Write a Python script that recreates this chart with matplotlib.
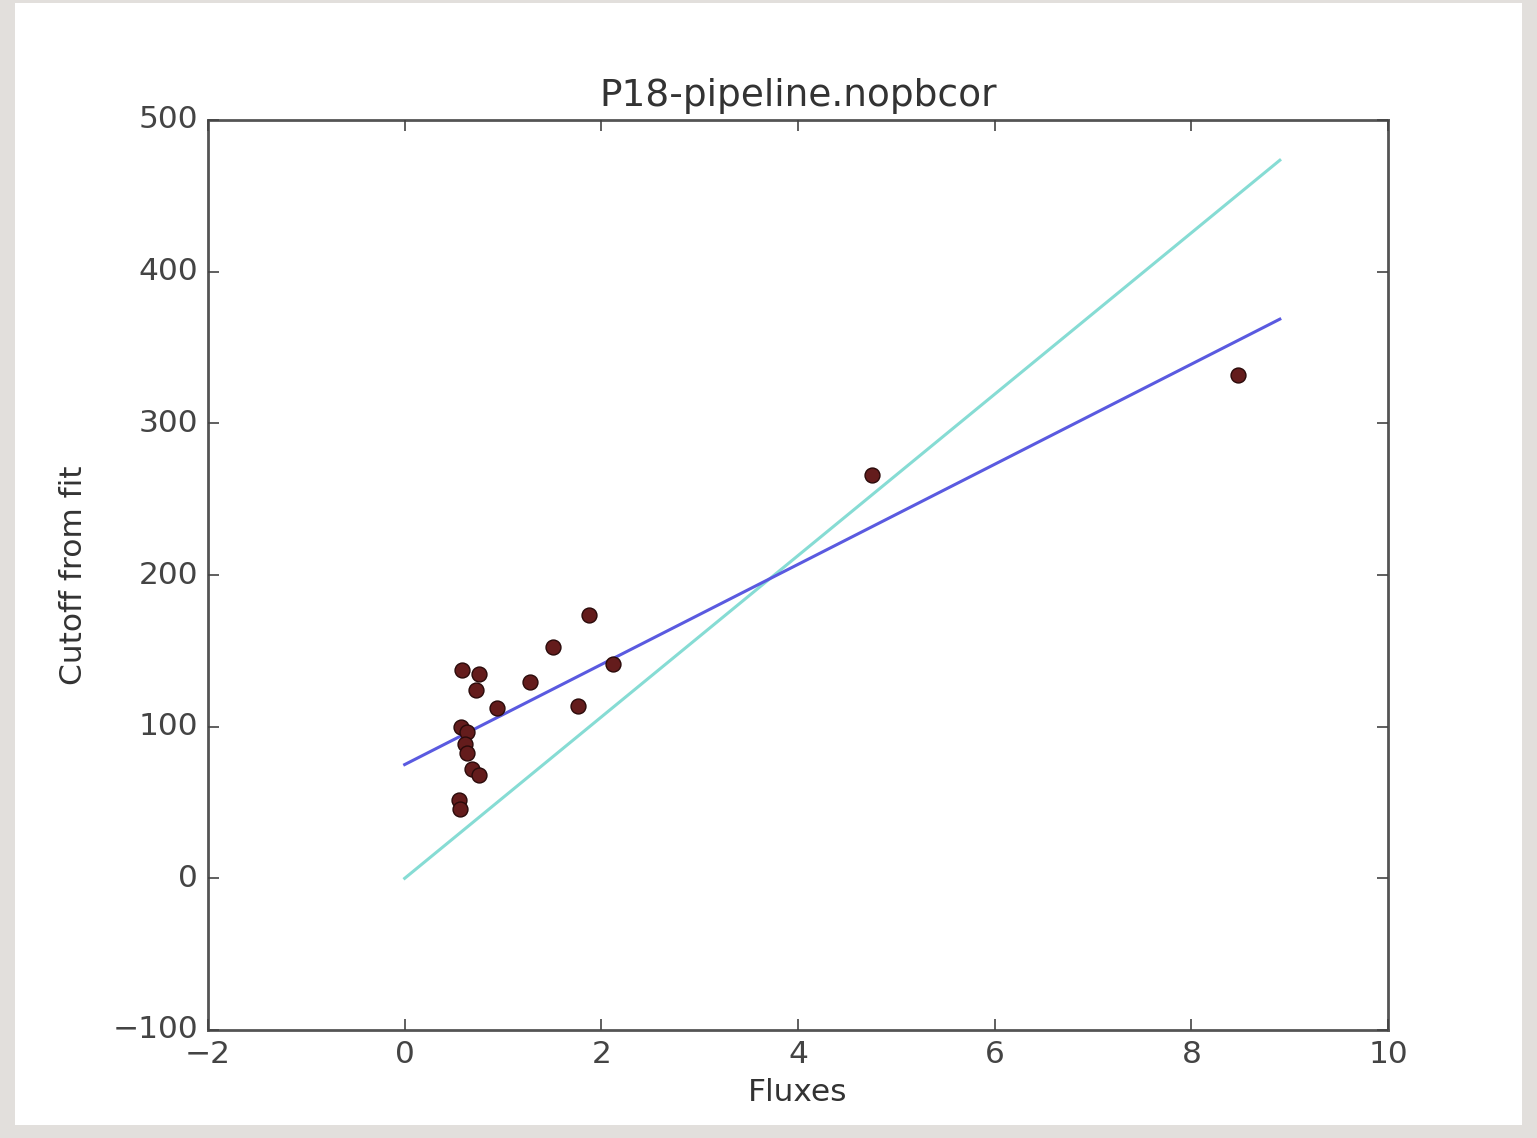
import numpy as np
import matplotlib
matplotlib.use('Agg')
import matplotlib.pyplot as plt
from matplotlib.patches import Rectangle

# flux vs cutoff
fluxes = [0.58, 0.76, 0.73, 0.94, 1.27, 1.51, 1.87, 2.12, 1.76, 0.57, 0.63,
          0.61, 0.63, 0.68, 0.76, 0.55, 0.56, 4.75, 8.47]
cutoffs = [137.6, 134.5, 124.0, 112.3, 129.4, 152.5, 173.4, 141.6, 113.4, 99.8, 96.5,
           88.8, 82.4, 72.3, 67.9, 51.4, 46.0, 265.7, 331.6]

# the two straight lines (slope, intercept)
line_slopes = [53.2, 33.0]
line_intercepts = [0.0, 75.0]
line_colors = ['#86dcd4', '#5a5ae0']
line_xmax = 8.9

plt.style.use('classic')
fig = plt.figure(figsize=(15.37, 11.38), dpi=100)
fig.patch.set_facecolor('#e2dfdc')
fig.patches.append(Rectangle((15 / 1537, 0.011), 1507 / 1537, 0.986,
                             transform=fig.transFigure, facecolor='white',
                             edgecolor='none', zorder=-10))

ax = fig.add_axes([208 / 1537, 1 - 1030 / 1138, 1180 / 1537, 910 / 1138])
ax.set_facecolor('white')

xs = np.array([0.0, line_xmax])
for m, b, c in zip(line_slopes, line_intercepts, line_colors):
    ax.plot(xs, m * xs + b, color=c, lw=2.2)

ax.scatter(fluxes, cutoffs, s=115, c='#641c1c', edgecolors='#2a0a0a', zorder=3)

ax.set_xlim(-2, 10)
ax.set_ylim(-100, 500)
ax.set_xticks(range(-2, 11, 2))
ax.set_yticks(range(-100, 501, 100))
for sp in ax.spines.values():
    sp.set_color('#555555')
    sp.set_linewidth(2)
ax.tick_params(labelsize=22.5, colors='#444444', length=8, width=1.2, pad=7)
ax.set_title('P18-pipeline.nopbcor', fontsize=27, color='#333333', pad=10)
ax.set_xlabel('Fluxes', fontsize=22.5, color='#333333', labelpad=7)
ax.set_ylabel('Cutoff from fit', fontsize=22.5, color='#333333', labelpad=18)

fig.savefig('out.png', dpi=100, facecolor=fig.get_facecolor())
